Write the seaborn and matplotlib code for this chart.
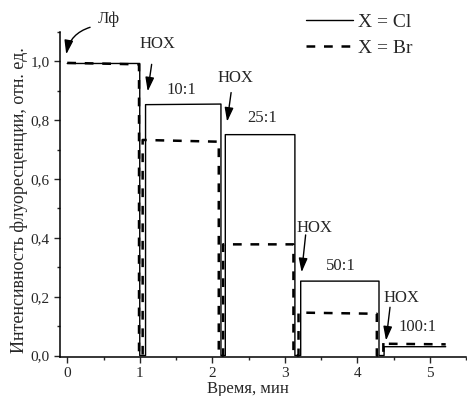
import numpy as np
import pandas as pd
import seaborn as sns
import matplotlib
matplotlib.use("Agg")
import matplotlib.pyplot as plt
from matplotlib.ticker import MultipleLocator, FuncFormatter

# =========================
# DATA
# =========================
# X = Cl, solid line: time (min) and relative intensity
time_cl = [0.0, 1.00, 1.00, 1.08, 1.08, 2.12, 2.12, 2.18, 2.18, 3.14, 3.14,
           3.22, 3.22, 4.30, 4.30, 4.37, 4.37, 5.22]
int_cl = [0.993, 0.993, 0.0, 0.0, 0.853, 0.855, 0.0, 0.0, 0.751, 0.751, 0.0,
          0.0, 0.253, 0.253, 0.0, 0.0, 0.030, 0.030]

# X = Br, dashed line
time_br = [0.0, 0.99, 0.99, 1.04, 1.04, 2.09, 2.09, 2.15, 2.15, 3.12, 3.12,
           3.19, 3.19, 4.27, 4.27, 4.36, 4.36, 4.40, 4.40, 5.22]
int_br = [0.995, 0.990, 0.0, 0.0, 0.733, 0.727, 0.0, 0.0, 0.378, 0.378, 0.0,
          0.0, 0.146, 0.142, 0.0, 0.0, 0.048, 0.045, 0.040, 0.038]

series_names = ["X = Cl", "X = Br"]
ratio_labels = ["10:1", "25:1", "50:1", "100:1"]

df = pd.concat([
    pd.DataFrame({"t": time_cl, "I": int_cl, "s": series_names[0]}),
    pd.DataFrame({"t": time_br, "I": int_br, "s": series_names[1]}),
])

# =========================
# PLOT
# =========================
sns.set_style("ticks")
plt.rcParams["font.family"] = ["Liberation Serif", "DejaVu Serif"]

fig = plt.figure(figsize=(4.67, 3.96), dpi=100)
ax = fig.add_axes([60 / 467, 39 / 396, 406 / 467, 325 / 396])

sns.lineplot(data=df[df.s == series_names[1]], x="t", y="I", color="k",
             estimator=None, sort=False, lw=1.8, dashes=(3.5, 3.5),
             label=series_names[1], ax=ax)
sns.lineplot(data=df[df.s == series_names[0]], x="t", y="I", color="k",
             estimator=None, sort=False, lw=1.0, label=series_names[0], ax=ax)

ax.set_xlim(-0.1, 5.5)
ax.set_ylim(-0.005, 1.1)
ax.xaxis.set_major_locator(MultipleLocator(1))
ax.xaxis.set_minor_locator(MultipleLocator(0.5))
ax.yaxis.set_major_locator(MultipleLocator(0.2))
ax.yaxis.set_minor_locator(MultipleLocator(0.1))
ax.yaxis.set_major_formatter(FuncFormatter(lambda v, p: f"{v:.1f}".replace(".", ",")))
ax.tick_params(which="major", direction="out", length=4, width=1, labelsize=11)
ax.tick_params(which="minor", direction="out", length=2.5, width=1)
sns.despine(ax=ax)
for sp in ["left", "bottom"]:
    ax.spines[sp].set_linewidth(1.1)
    ax.spines[sp].set_color("k")

ax.set_xlabel("Время, мин", fontsize=12, labelpad=1)
ax.xaxis.set_label_coords((248 - 60) / 406, -0.075)
ax.set_ylabel("Интенсивность флуоресценции, отн. ед.", fontsize=13)
ax.yaxis.set_label_coords(-0.079, (396 - 39 - 200) / 325)

# legend above the top right of the axes
h, l = ax.get_legend_handles_labels()
ax.legend(h[::-1], l[::-1], loc="upper left", frameon=False, fontsize=14,
          handlelength=2.4, handletextpad=0.25, labelspacing=0.46,
          borderpad=0, borderaxespad=0,
          bbox_to_anchor=(306 / 467, 1 - 13 / 396), bbox_transform=fig.transFigure)

# annotations
arrow = dict(arrowstyle="-|>,head_length=0.7,head_width=0.22", color="k",
             lw=1, mutation_scale=12, shrinkA=0, shrinkB=0)
ax.annotate("Лф", xy=(0.58, 1.143), ha="center", va="center", fontsize=12,
            annotation_clip=False)
ax.annotate("", xy=(-0.014, 1.024), xytext=(0.315, 1.116), annotation_clip=False,
            arrowprops=dict(arrow, connectionstyle="arc3,rad=0.3"))

hox_text = [(1.24, 1.058), (2.315, 0.945), (3.41, 0.433), (4.616, 0.195)]
hox_from = [(1.164, 0.99), (2.26, 0.894), (3.288, 0.41), (4.452, 0.164)]
hox_to = [(1.11, 0.898), (2.205, 0.795), (3.233, 0.283), (4.397, 0.051)]
for tx, fr, to in zip(hox_text, hox_from, hox_to):
    ax.text(tx[0], tx[1], "HOX", ha="center", va="center", fontsize=12)
    ax.annotate("", xy=to, xytext=fr, arrowprops=arrow, annotation_clip=False)

ratio_pos = [(1.575, 0.904), (2.685, 0.809), (3.767, 0.304), (4.836, 0.096)]
for lab, pos in zip(ratio_labels, ratio_pos):
    ax.text(pos[0], pos[1], lab, ha="center", va="center", fontsize=12)

fig.savefig("out.png", dpi=100)
